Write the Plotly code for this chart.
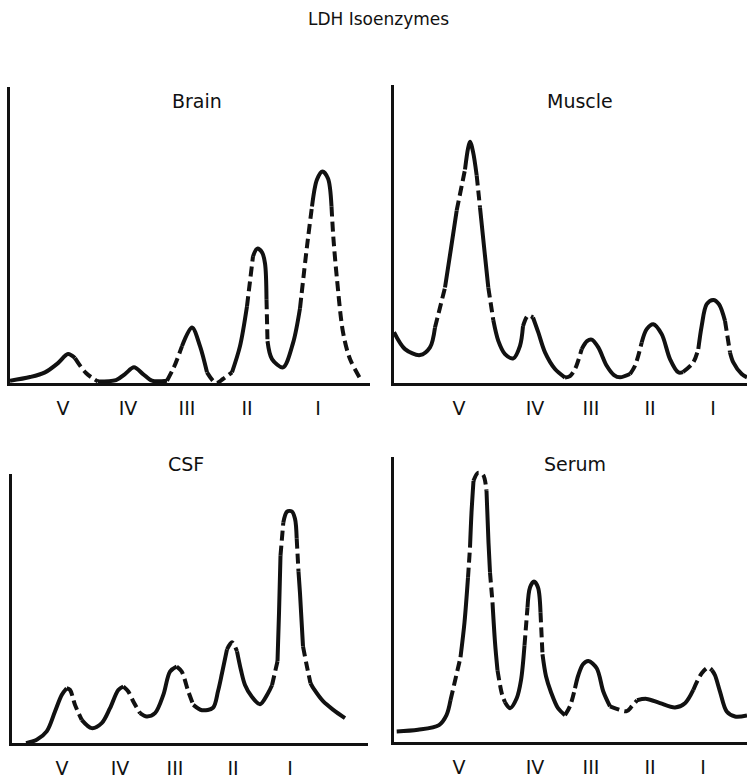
import plotly.graph_objects as go

# ---------------- data (x = mobility position, y = relative activity) -------------
ROMAN = ["V", "IV", "III", "II", "I"]

BRAIN_X = [0, 20, 35, 48, 58, 65, 76, 88, 106, 115, 124, 133, 142, 157, 164, 172,
           182, 190, 197, 206, 213, 222, 230, 237, 243, 247.3, 252, 255, 256.5, 257.5,
           262, 273, 283, 290, 297, 302, 307, 312.5, 318, 321.5, 323.5, 327, 333, 340, 352]
BRAIN_Y = [2.3, 6, 10.7, 20, 29, 25, 10, 1.5, 3, 9, 15.7, 9, 2.3, 2.3, 16, 37,
           55.7, 37, 10.7, 0, 4, 10.7, 37, 77, 127, 134.7, 131, 120, 84, 42,
           24, 15.7, 40, 75, 137, 177, 204, 212, 205, 177, 144, 104, 51, 24, 1.5]
BRAIN_STYLE = ["s", "s", "s", "s", "s", "d", "d", "s", "s", "s", "s", "s", "s", "d", "d", "s",
               "s", "s", "d", "d", "d", "s", "s", "d", "s", "s", "s", "s", "d", "s",
               "s", "s", "s", "d", "d", "s", "s", "s", "s", "d", "d", "d", "d", "d", "d"]
BRAIN_TICKS = [53, 118, 177, 237, 308]

MUSCLE_X = [0, 11, 26, 36, 41, 51, 57, 62.7, 71, 74, 76, 79, 82.7, 86, 90, 94.3,
            99.3, 104.3, 111, 119.3, 126, 129, 134, 139, 144.3, 151, 161, 171, 176, 181,
            187.7, 193, 197.7, 204.3, 212.7, 220, 226, 236, 241, 247.7, 252.7, 259.3,
            267.7, 276, 284.3, 289, 299.3, 304.3, 307.7, 312.7, 319.3, 325, 331, 336,
            339.3, 347.7, 353]
MUSCLE_Y = [51, 34, 28, 35.7, 55.7, 95.7, 135, 173, 214, 235, 242, 232, 208, 176, 137, 95.7,
            63, 42.3, 29, 24.7, 37.3, 57, 67.5, 65.7, 50.7, 30.7, 14, 5.5, 7, 14,
            34, 42, 43.5, 35.7, 17.3, 8, 5.7, 9, 17.3, 40.7, 54, 59,
            49, 24, 10.7, 11, 20.7, 34, 57.3, 79, 83.3, 79, 62.3, 30.7,
            20.7, 9, 5.7]
MUSCLE_STYLE = ["s", "s", "s", "s", "d", "s", "s", "d", "s", "s", "s", "s", "d", "s", "s", "d",
                "s", "s", "s", "s", "s", "d", "d", "s", "s", "s", "s", "d", "d", "d",
                "s", "s", "s", "s", "s", "s", "s", "d", "d", "s", "s", "s",
                "s", "s", "s", "d", "d", "s", "s", "s", "s", "s", "d", "s",
                "s", "s", "s"]
MUSCLE_TICKS = [65, 141, 197, 256, 319]

CSF_X = [14, 24.7, 34.7, 43, 49.7, 54.7, 58, 63, 69.7, 79.7, 89.7, 98, 106.3, 111.3,
         116.3, 121.3, 128, 134.7, 143, 151.3, 158, 164.7, 169.7, 176.3, 181.3, 190,
         201, 206, 210, 215, 220, 225, 229, 233, 239.7, 248, 256, 260, 265.5, 267,
         268.5, 271.3, 275, 279.7, 283, 284.7, 286.5, 288, 291, 294.7, 298.5, 302,
         311.3, 321.3, 333]
CSF_Y = [0, 3.3, 11.7, 31.7, 48.3, 55, 53.3, 38.3, 23.3, 15, 20, 35, 53.3, 56.7,
         51.7, 41.7, 30, 26.7, 30, 48.3, 71.7, 76.7, 71.7, 51.7, 38.3, 33,
         35.5, 52, 70, 94, 101, 92, 73, 58.3, 46.7, 39, 50, 58, 82, 130,
         188, 221, 232, 232.3, 225, 205, 172, 150, 97, 78, 60, 54,
         41.7, 33.3, 25]
CSF_STYLE = ["s", "s", "s", "s", "s", "d", "d", "d", "s", "s", "s", "s", "s", "d",
             "d", "d", "s", "s", "s", "s", "s", "d", "d", "d", "s", "s",
             "s", "s", "s", "d", "d", "s", "s", "s", "s", "s", "s", "d", "s", "s",
             "d", "s", "s", "s", "s", "d", "s", "s", "d", "d", "s", "s",
             "s", "s", "s"]
CSF_TICKS = [50, 108, 163, 221, 278]

SERUM_X = [2.7, 24, 45, 52.5, 56.5, 66.5, 70.5, 74, 76, 77.5, 79.5, 84, 89, 92.5, 94.5,
           96, 98.5, 101, 103.5, 108, 111, 116, 122.7, 127, 130.5, 133.5, 136, 140,
           144, 146.5, 148.5, 152, 157, 164, 171, 176, 181, 184.3, 189, 194.3, 202.7,
           209.3, 216, 222.7, 232.7, 237.7, 243, 252.7, 266, 281, 291, 299.3, 307.7,
           314.3, 318, 321, 326, 332.7, 341, 353]
SERUM_Y = [10.7, 12.3, 17, 27, 42, 85, 120, 165, 195, 230, 262, 270, 268, 252, 200,
           170, 140, 100, 72, 48, 40, 34, 44, 62, 97, 135, 155, 161,
           155, 130, 88, 66, 50, 34, 27, 36, 54, 67, 78, 81.3, 74,
           50.7, 35.7, 33.3, 31, 35.7, 42, 43.3, 39, 34.7, 39, 52.3, 69,
           74.7, 72, 67, 50.7, 30.7, 25.7, 26.7]
SERUM_STYLE = ["s", "s", "s", "s", "d", "s", "s", "d", "s", "s", "d", "d", "d", "s", "s",
               "d", "s", "s", "d", "d", "s", "s", "s", "s", "d", "s", "s", "s",
               "s", "d", "s", "s", "s", "s", "d", "d", "s", "s", "s", "s", "s",
               "s", "d", "d", "d", "d", "s", "s", "s", "s", "s", "d", "d",
               "d", "s", "s", "s", "s", "s", "s"]
SERUM_TICKS = [65, 141, 197, 256, 309]

TITLES = ["Brain", "Muscle", "CSF", "Serum"]
MAIN_TITLE = "LDH Isoenzymes"

# ---------------- layout geometry (pixels of the 747 x 779 window) -------------
W, H = 747, 779
INK = "#111111"
FONT = "DejaVu Sans"
DASH = "10px,5px"

# (left, right, top, bottom) pixel boxes of each panel's axes
BOXES = [(10, 370, 87, 384), (394, 747, 85, 384), (12, 368, 475, 745), (394, 747, 458, 744)]
TITLE_POS = [(197, 101), (580, 101), (186, 465), (575, 465)]
MAIN_POS = (378, 19)


def px_x(x):
    return x / W


def px_y(y):
    return 1 - y / H


panels = [
    (BRAIN_X, BRAIN_Y, BRAIN_STYLE, BRAIN_TICKS),
    (MUSCLE_X, MUSCLE_Y, MUSCLE_STYLE, MUSCLE_TICKS),
    (CSF_X, CSF_Y, CSF_STYLE, CSF_TICKS),
    (SERUM_X, SERUM_Y, SERUM_STYLE, SERUM_TICKS),
]

fig = go.Figure()
layout = dict(
    width=W, height=H, autosize=False,
    margin=dict(l=0, r=0, t=0, b=0),
    paper_bgcolor="white", plot_bgcolor="white",
    showlegend=False,
    annotations=[],
)


def segments(style):
    """Group consecutive intervals of one line style -> (start, end, style)."""
    out = []
    start = 0
    for i in range(1, len(style) - 1):
        if style[i] != style[start]:
            out.append((start, i, style[start]))
            start = i
    out.append((start, len(style) - 1, style[start]))
    return out


for k, (xs, ys, st, ticks) in enumerate(panels):
    n = k + 1
    xa = "x" if n == 1 else f"x{n}"
    ya = "y" if n == 1 else f"y{n}"
    left, right, top, bottom = BOXES[k]
    for a, b, s in segments(st):
        fig.add_trace(go.Scatter(
            x=xs[a:b + 1], y=ys[a:b + 1], mode="lines",
            line=dict(color=INK, width=4, shape="spline", smoothing=0.9,
                      dash="solid" if s == "s" else DASH),
            xaxis=xa, yaxis=ya, hoverinfo="skip",
        ))
    xkey = "xaxis" if n == 1 else f"xaxis{n}"
    ykey = "yaxis" if n == 1 else f"yaxis{n}"
    layout[xkey] = dict(
        domain=[px_x(left), px_x(right)], range=[0, right - left], anchor=ya,
        showgrid=False, zeroline=False, showline=True, linecolor=INK, linewidth=2.5,
        tickmode="array", tickvals=ticks, ticktext=ROMAN,
        ticks="outside", ticklen=6, tickcolor="rgba(0,0,0,0)",
        tickfont=dict(family=FONT, size=19, color=INK),
        fixedrange=True,
    )
    layout[ykey] = dict(
        domain=[px_y(bottom), px_y(top)], range=[0, bottom - top], anchor=xa,
        showgrid=False, zeroline=False, showline=True, linecolor=INK, linewidth=2.5,
        showticklabels=False, ticks="", fixedrange=True,
    )
    tx, ty = TITLE_POS[k]
    layout["annotations"].append(dict(
        text=TITLES[k], x=px_x(tx), y=px_y(ty), xref="paper", yref="paper",
        xanchor="center", yanchor="middle", showarrow=False,
        font=dict(family=FONT, size=19, color=INK),
    ))

layout["annotations"].append(dict(
    text=MAIN_TITLE, x=px_x(MAIN_POS[0]), y=px_y(MAIN_POS[1]), xref="paper", yref="paper",
    xanchor="center", yanchor="middle", showarrow=False,
    font=dict(family=FONT, size=17, color=INK),
))

fig.update_layout(**layout)
# remove the browser's default 8px page margin so the figure fills the window exactly
fig.write_html(
    "out.html",
    config={"displayModeBar": False},
    post_script="document.body.style.margin='0';document.body.style.overflow='hidden';",
)
